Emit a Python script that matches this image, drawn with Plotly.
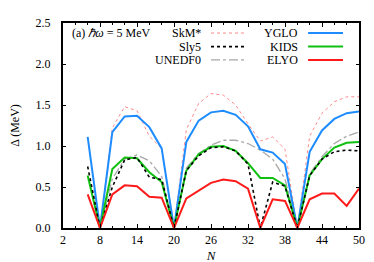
import plotly.graph_objects as go

N_full = [6, 8, 10, 12, 14, 16, 18, 20, 22, 24, 26, 28, 30, 32, 34, 36, 38, 40, 42, 44, 46, 48, 50]
N_from8 = N_full[1:]

skm = [0.0, 1.22, 1.48, 1.43, 1.12, 0.97, 0.0, 1.20, 1.52, 1.64, 1.62, 1.50, 1.27, 1.06, 1.11, 0.96, 0.0, 1.12, 1.40, 1.54, 1.60, 1.60]
sly5 = [0.75, 0.0, 0.50, 0.83, 0.86, 0.62, 0.59, 0.0, 0.70, 0.88, 0.98, 0.99, 0.94, 0.78, 0.0, 0.56, 0.51, 0.0, 0.64, 0.84, 0.93, 0.95, 0.94]
unedf0 = [0.0, 0.60, 0.84, 0.89, 0.82, 0.63, 0.0, 0.73, 0.91, 1.01, 1.07, 1.07, 1.03, 0.95, 0.84, 0.60, 0.0, 0.66, 0.87, 1.03, 1.12, 1.17]
yglo = [1.11, 0.0, 1.17, 1.36, 1.37, 1.23, 0.97, 0.0, 1.05, 1.31, 1.41, 1.43, 1.38, 1.24, 0.96, 0.92, 0.78, 0.0, 0.93, 1.19, 1.33, 1.40, 1.42]
kids = [0.64, 0.0, 0.72, 0.86, 0.85, 0.68, 0.56, 0.0, 0.70, 0.90, 0.99, 1.00, 0.94, 0.79, 0.61, 0.61, 0.52, 0.0, 0.64, 0.84, 0.98, 1.04, 1.05]
elyo = [0.41, 0.0, 0.41, 0.52, 0.51, 0.38, 0.37, 0.0, 0.36, 0.45, 0.55, 0.59, 0.57, 0.48, 0.0, 0.35, 0.33, 0.0, 0.35, 0.42, 0.42, 0.27, 0.48]

FONT = "Times New Roman, Liberation Serif, serif"

series = [
    ("SkM*", N_from8, skm, dict(color="#ff8a8a", width=1, dash="dot")),
    ("UNEDF0", N_from8, unedf0, dict(color="#a8a8a8", width=1.3, dash="dashdot")),
    ("YGLO", N_full, yglo, dict(color="#1e8cff", width=2)),
    ("KIDS", N_full, kids, dict(color="#10c010", width=2)),
    ("Sly5", N_full, sly5, dict(color="#000000", width=1.6, dash="dot")),
    ("ELYO", N_full, elyo, dict(color="#ff1a1a", width=2)),
]

fig = go.Figure()
for name, x, y, line in series:
    fig.add_trace(go.Scatter(x=x, y=y, mode="lines", name=name, line=line, showlegend=False))

legend_cols = [
    (["SkM*", "Sly5", "UNEDF0"], 0.473, 0.500, 0.618),
    (["YGLO", "KIDS", "ELYO"], 0.801, 0.828, 0.946),
]
styles = {name: line for name, _, _, line in series}
rows_y = [0.951, 0.885, 0.820]
for names, tx, x0, x1 in legend_cols:
    for nm, ry in zip(names, rows_y):
        fig.add_annotation(x=tx, y=ry, xref="paper", yref="paper", text=nm, showarrow=False,
                           xanchor="right", yanchor="middle", font=dict(family=FONT, size=12, color="black"))
        ln = styles[nm]
        fig.add_shape(type="line", xref="paper", yref="paper", x0=x0, x1=x1, y0=ry, y1=ry,
                      line=dict(color=ln["color"], width=ln["width"], dash=ln.get("dash", "solid")))

fig.add_annotation(x=0.024, y=0.951, xref="paper", yref="paper", text="(a) <i>ℏω</i> = 5 MeV",
                   showarrow=False, xanchor="left", yanchor="middle",
                   font=dict(family=FONT, size=12, color="black"))

fig.update_layout(
    width=374, height=262,
    margin=dict(l=55, r=23, t=15, b=42, autoexpand=False),
    paper_bgcolor="white", plot_bgcolor="white",
    font=dict(family=FONT, size=12, color="black"),
    showlegend=False,
)
fig.update_xaxes(
    range=[2, 50], tick0=2, dtick=6, ticks="inside", ticklen=4, tickwidth=1, tickcolor="black",
    minor=dict(dtick=2, tick0=2, ticks="inside", ticklen=2, tickcolor="black"),
    showline=True, linecolor="black", linewidth=2, mirror="ticks", showgrid=False, zeroline=False,
    title=dict(text="<i>N</i>", font=dict(family=FONT, size=13), standoff=4),
    tickfont=dict(family=FONT, size=12), automargin=False,
)
fig.update_yaxes(
    range=[0, 2.5], dtick=0.5, tickformat=".1f", ticks="inside", ticklen=3, tickwidth=1, tickcolor="black",
    showline=True, linecolor="black", linewidth=2, mirror="ticks", showgrid=False, zeroline=False,
    title=dict(text="Δ (MeV)", font=dict(family=FONT, size=12), standoff=18),
    tickfont=dict(family=FONT, size=12), ticklabelstandoff=8, automargin=False,
)

fig.write_html("out.html")
